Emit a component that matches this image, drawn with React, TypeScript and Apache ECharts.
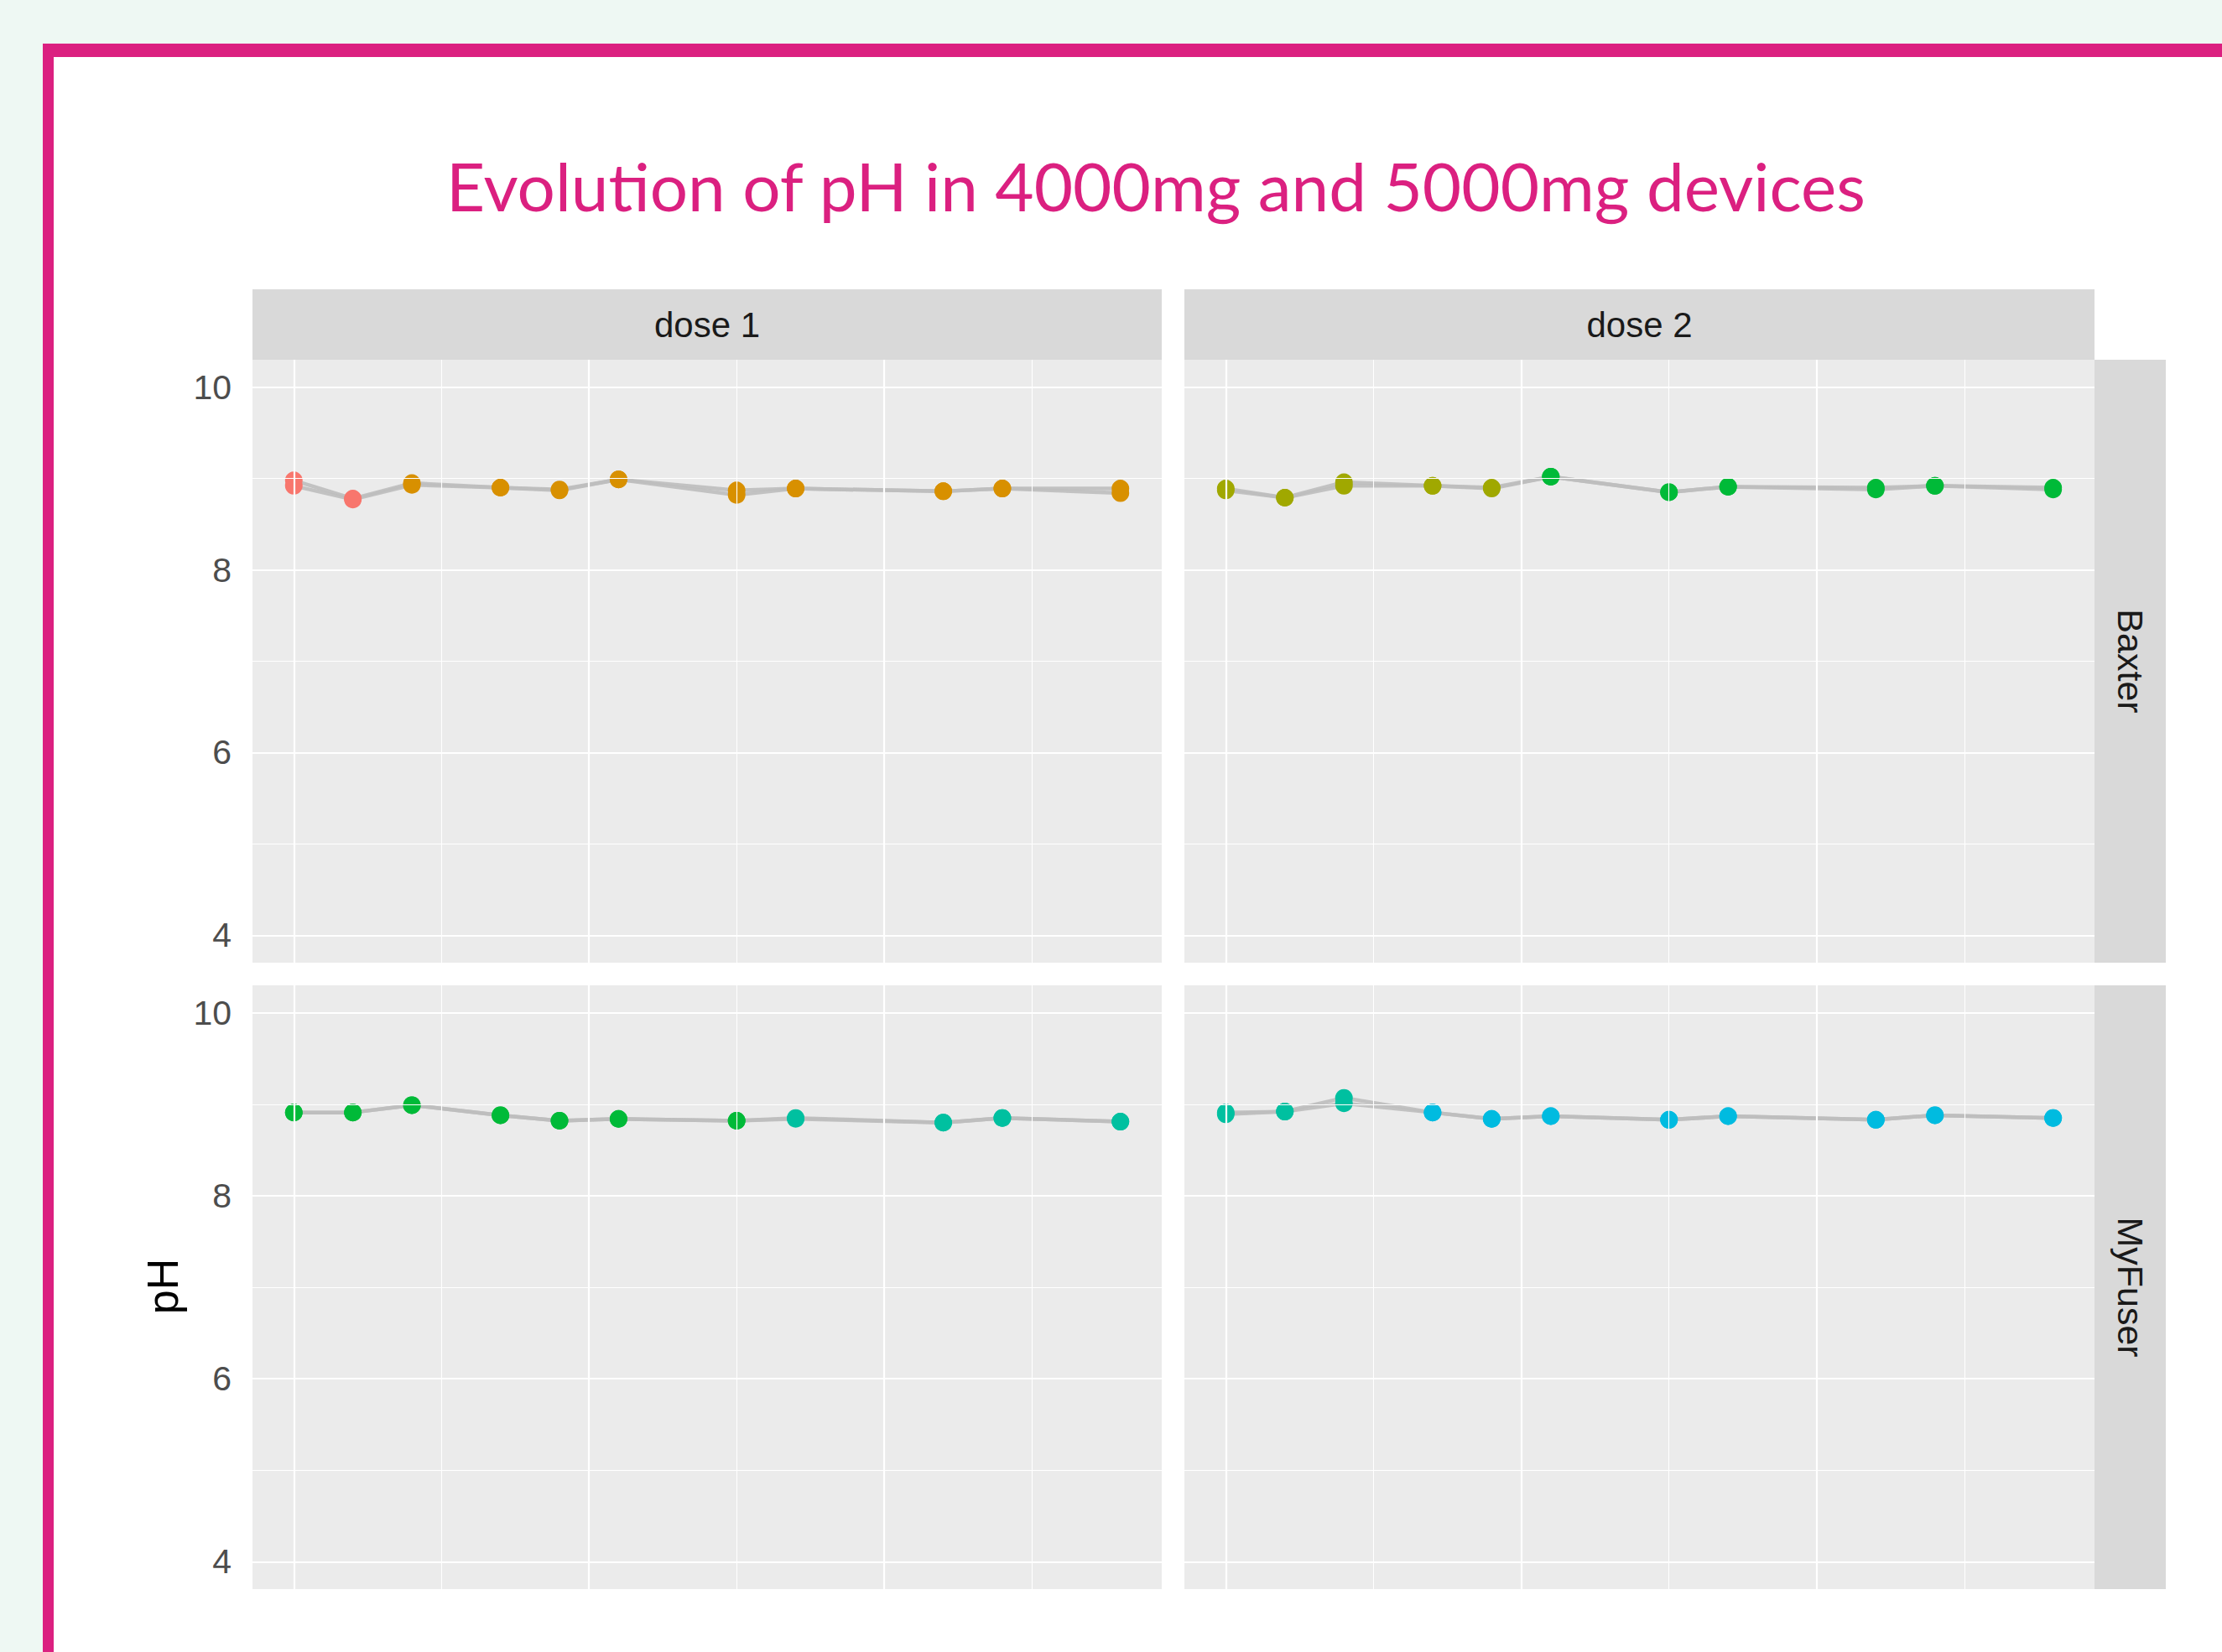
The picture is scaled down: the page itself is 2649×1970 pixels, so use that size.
import React, { useEffect, useRef } from "react";
import * as echarts from "echarts";

// ---- data ----
const titleText = "Evolution of pH in 4000mg and 5000mg devices";
const doses = ["dose 1", "dose 2"];
const devices = ["Baxter", "MyFuser"];
const yLabel = "pH";
const days = [0, 0.4, 0.8, 1.4, 1.8, 2.2, 3.0, 3.4, 4.4, 4.8, 5.6];
const yTicks = [4, 6, 8, 10];
const yMinor = [5, 7, 9];
const xMajor = [0, 2, 4];
const xMinor = [1, 3, 5];

const palette = ["#F8766D", "#D89000", "#A0A800", "#00BA38", "#00C0A0", "#00BBE0"];

// Baxter, dose 1
const baxterDose1A = [8.98, 8.78, 8.95, 8.9, 8.88, 8.99, 8.87, 8.89, 8.86, 8.89, 8.89];
const baxterDose1B = [8.92, 8.77, 8.93, 8.9, 8.87, 8.99, 8.82, 8.89, 8.86, 8.89, 8.84];
const baxterDose1Color = [0, 0, 1, 1, 1, 1, 1, 1, 1, 1, 1];
// Baxter, dose 2
const baxterDose2A = [8.89, 8.79, 8.96, 8.92, 8.9, 9.02, 8.85, 8.91, 8.9, 8.92, 8.9];
const baxterDose2B = [8.87, 8.79, 8.92, 8.92, 8.89, 9.02, 8.85, 8.91, 8.88, 8.92, 8.88];
const baxterDose2Color = [2, 2, 2, 2, 2, 3, 3, 3, 3, 3, 3];
// MyFuser, dose 1
const myfuserDose1A = [8.91, 8.91, 8.99, 8.88, 8.82, 8.84, 8.82, 8.85, 8.8, 8.85, 8.81];
const myfuserDose1B = [8.91, 8.91, 8.99, 8.88, 8.82, 8.84, 8.82, 8.84, 8.8, 8.85, 8.81];
const myfuserDose1Color = [3, 3, 3, 3, 3, 3, 3, 4, 4, 4, 4];
// MyFuser, dose 2
const myfuserDose2A = [8.91, 8.92, 9.07, 8.91, 8.84, 8.87, 8.83, 8.87, 8.83, 8.88, 8.85];
const myfuserDose2B = [8.89, 8.92, 9.01, 8.91, 8.84, 8.87, 8.83, 8.87, 8.83, 8.88, 8.85];
const myfuserDose2Color = [4, 4, 4, 5, 5, 5, 5, 5, 5, 5, 5];

const panelData = [
  { a: baxterDose1A, b: baxterDose1B, c: baxterDose1Color },
  { a: baxterDose2A, b: baxterDose2B, c: baxterDose2Color },
  { a: myfuserDose1A, b: myfuserDose1B, c: myfuserDose1Color },
  { a: myfuserDose2A, b: myfuserDose2B, c: myfuserDose2Color },
];

// ---- layout ----
const W = 2649;
const H = 1970;
const colLeft = [301, 1412];
const colWidth = [1084, 1085];
const rowTop = [429, 1175];
const rowHeight = [719, 720];
const stripTop = 345;
const stripRight = [2497, 2582];
const textFont = "'Liberation Sans', Arial, sans-serif";

export default function App() {
  const ref = useRef<HTMLDivElement>(null);

  useEffect(() => {
    if (!ref.current) return;
    const chart = echarts.init(ref.current, null, { renderer: "svg" });

    const grids: any[] = [];
    const xAxes: any[] = [];
    const yAxes: any[] = [];
    const series: any[] = [];

    for (let p = 0; p < 4; p++) {
      const r = Math.floor(p / 2);
      const c = p % 2;
      grids.push({
        left: colLeft[c],
        top: rowTop[r],
        width: colWidth[c],
        height: rowHeight[r],
        show: true,
        backgroundColor: "#EBEBEB",
        borderWidth: 0,
      });
      xAxes.push({
        type: "value",
        gridIndex: p,
        min: -0.28,
        max: 5.88,
        show: false,
      });
      const isLeft = c === 0;
      yAxes.push({
        type: "value",
        gridIndex: p,
        min: 3.7,
        max: 10.3,
        axisLine: { show: false },
        splitLine: { show: false },
        axisTick: {
          show: isLeft,
          customValues: yTicks,
          length: 13,
          lineStyle: { color: "#333333", width: 2 },
        },
        axisLabel: {
          show: isLeft,
          customValues: yTicks,
          fontSize: 41,
          color: "#4D4D4D",
          fontFamily: textFont,
          margin: 25,
        },
      });

      const minorStyle = { color: "#FFFFFF", width: 1.1, type: "solid" };
      const majorStyle = { color: "#FFFFFF", width: 2.2, type: "solid" };
      series.push({
        type: "line",
        xAxisIndex: p,
        yAxisIndex: p,
        data: [],
        z: 1,
        silent: true,
        markLine: {
          silent: true,
          symbol: ["none", "none"],
          label: { show: false },
          emphasis: { disabled: true },
          data: [
            ...yMinor.map((v) => ({ yAxis: v, lineStyle: minorStyle })),
            ...xMinor.map((v) => ({ xAxis: v, lineStyle: minorStyle })),
            ...yTicks.map((v) => ({ yAxis: v, lineStyle: majorStyle })),
            ...xMajor.map((v) => ({ xAxis: v, lineStyle: majorStyle })),
          ],
        },
      });

      const d = panelData[p];
      [d.a, d.b].forEach((rep) => {
        series.push({
          type: "line",
          xAxisIndex: p,
          yAxisIndex: p,
          data: days.map((x, i) => [x, rep[i]]),
          showSymbol: false,
          symbol: "none",
          silent: true,
          z: 2,
          lineStyle: { color: "#BEBEBE", width: 4.5, opacity: 0.9 },
        });
      });
      [d.a, d.b].forEach((rep) => {
        series.push({
          type: "scatter",
          xAxisIndex: p,
          yAxisIndex: p,
          symbol: "circle",
          symbolSize: 21,
          silent: true,
          z: 3,
          data: days.map((x, i) => ({
            value: [x, rep[i]],
            itemStyle: { color: palette[d.c[i]], opacity: 1 },
          })),
        });
      });
    }

    const graphics: any[] = [
      {
        type: "rect",
        z: -20,
        shape: { x: 51, y: 52, width: W, height: H },
        style: { fill: "#DB2080" },
      },
      {
        type: "rect",
        z: -19,
        shape: { x: 64, y: 68, width: W, height: H },
        style: { fill: "#FFFFFF" },
      },
      {
        type: "text",
        x: 1378,
        y: 221,
        z: 10,
        style: {
          text: titleText,
          fill: "#DB2080",
          fontSize: 80,
          fontFamily: "Lato, 'Open Sans', sans-serif",
          align: "center",
          verticalAlign: "middle",
        },
      },
      {
        type: "text",
        x: 194,
        y: 1534,
        rotation: Math.PI / 2,
        z: 10,
        style: {
          text: yLabel,
          fill: "#000000",
          fontSize: 52,
          fontFamily: textFont,
          align: "center",
          verticalAlign: "middle",
        },
      },
    ];

    // top strips
    for (let c = 0; c < 2; c++) {
      graphics.push({
        type: "rect",
        z: 5,
        shape: { x: colLeft[c], y: stripTop, width: colWidth[c], height: rowTop[0] - stripTop },
        style: { fill: "#D9D9D9" },
      });
      graphics.push({
        type: "text",
        z: 6,
        x: colLeft[c] + colWidth[c] / 2,
        y: (stripTop + rowTop[0]) / 2,
        style: {
          text: doses[c],
          fill: "#1A1A1A",
          fontSize: 42,
          fontFamily: textFont,
          align: "center",
          verticalAlign: "middle",
        },
      });
    }
    // right strips
    for (let r = 0; r < 2; r++) {
      graphics.push({
        type: "rect",
        z: 5,
        shape: {
          x: stripRight[0],
          y: rowTop[r],
          width: stripRight[1] - stripRight[0],
          height: rowHeight[r],
        },
        style: { fill: "#D9D9D9" },
      });
      graphics.push({
        type: "text",
        z: 6,
        x: (stripRight[0] + stripRight[1]) / 2,
        y: rowTop[r] + rowHeight[r] / 2,
        rotation: -Math.PI / 2,
        style: {
          text: devices[r],
          fill: "#1A1A1A",
          fontSize: 43,
          fontFamily: textFont,
          align: "center",
          verticalAlign: "middle",
        },
      });
    }

    chart.setOption({
      animation: false,
      backgroundColor: "#EEF8F3",
      grid: grids,
      xAxis: xAxes,
      yAxis: yAxes,
      series,
      graphic: { elements: graphics },
    });

    return () => {
      chart.dispose();
    };
  }, []);

  return (
    <div
      ref={ref}
      style={{ position: "absolute", left: 0, top: 0, width: W, height: H }}
    />
  );
}
